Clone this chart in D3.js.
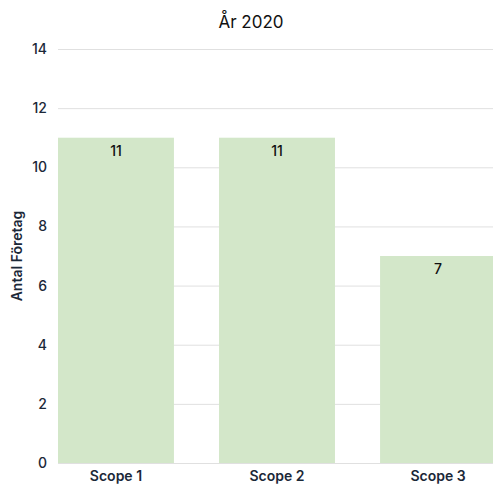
<!DOCTYPE html>
<html>
<head>
<meta charset="utf-8">
<script src="https://cdn.jsdelivr.net/npm/d3@7"></script>
<style>
  body { margin: 0; background: #fff; }
  text { font-family: Inter, "Noto Sans", sans-serif; }
</style>
</head>
<body>
<svg id="chart"></svg>
<script>
const categories = ["Scope 1", "Scope 2", "Scope 3"];
const values = [11, 11, 7];
const yTicks = [0, 2, 4, 6, 8, 10, 12, 14];

const width = 493, height = 485;
const svg = d3.select("#chart").attr("width", width).attr("height", height);

const x = d3.scaleBand().domain(categories).range([58, 496]).paddingInner(0.28).paddingOuter(0);
const y = d3.scaleLinear().domain([0, 14]).range([463, 49]);

// grid lines
svg.append("g")
    .selectAll("line")
    .data(yTicks)
    .enter()
    .append("line")
    .attr("x1", 58)
    .attr("x2", width)
    .attr("y1", d => y(d) + 0.5)
    .attr("y2", d => y(d) + 0.5)
    .attr("stroke", "#e0e0e0")
    .attr("stroke-width", 1);

// bars
svg.append("g")
    .selectAll("rect")
    .data(values)
    .enter()
    .append("rect")
    .attr("x", (d, i) => x(categories[i]))
    .attr("y", d => y(d))
    .attr("width", x.bandwidth())
    .attr("height", d => y(0) - y(d))
    .attr("fill", "#d3e7c9");

// value labels
svg.append("g")
    .selectAll("text")
    .data(values)
    .enter()
    .append("text")
    .attr("x", (d, i) => x(categories[i]) + x.bandwidth() / 2)
    .attr("y", d => y(d) + 18)
    .attr("text-anchor", "middle")
    .style("font-size", "14px")
    .style("font-weight", 500)
    .attr("fill", "#111")
    .text(d => d);

// y axis
const yAxis = svg.append("g")
    .attr("transform", "translate(47,0)")
    .call(d3.axisLeft(y).tickValues(yTicks).tickSize(0).tickPadding(0));
yAxis.select(".domain").remove();
yAxis.selectAll("text")
    .style("font-size", "14px")
    .style("font-weight", 500)
    .attr("fill", "#1b2838");

// x axis
const xAxis = svg.append("g")
    .attr("transform", "translate(0,463)")
    .call(d3.axisBottom(x).tickSize(0).tickPadding(8));
xAxis.select(".domain").remove();
xAxis.selectAll("text")
    .style("font-size", "14px")
    .style("font-weight", 600)
    .attr("fill", "#1b2838");

// title
svg.append("text")
    .attr("x", 251)
    .attr("y", 28)
    .attr("text-anchor", "middle")
    .style("font-size", "17px")
    .attr("fill", "#111")
    .text("År 2020");

// y label
svg.append("text")
    .attr("transform", "translate(22,256) rotate(-90)")
    .attr("text-anchor", "middle")
    .style("font-size", "14px")
    .style("font-weight", 600)
    .attr("fill", "#1b2838")
    .text("Antal Företag");
</script>
</body>
</html>
